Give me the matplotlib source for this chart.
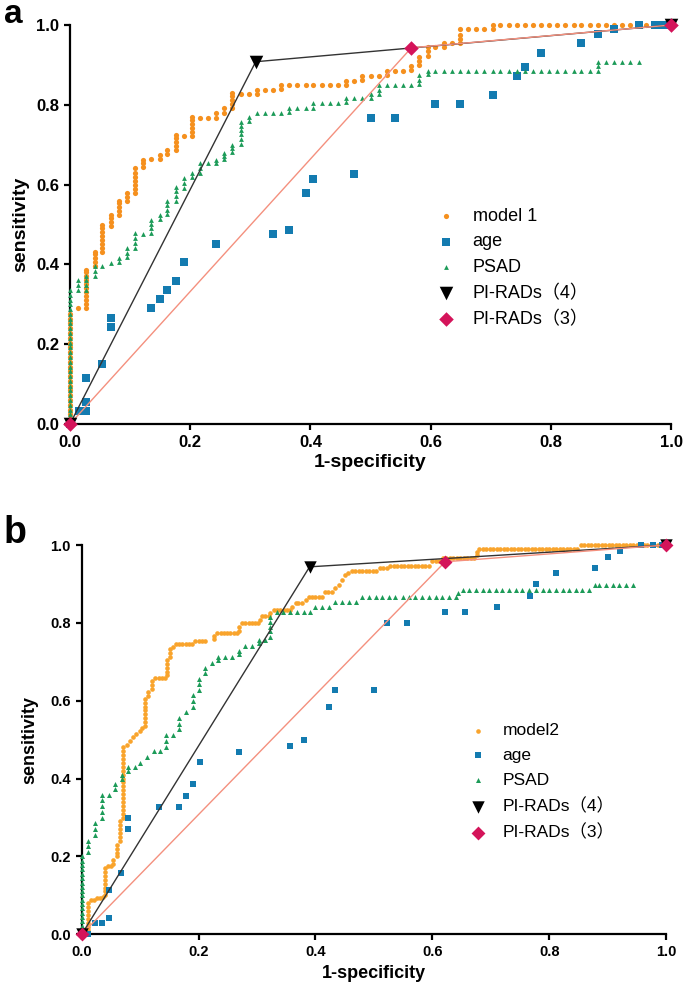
import matplotlib
matplotlib.use('Agg')
import matplotlib.pyplot as plt

plt.rcParams['font.family'] = ['Liberation Sans', 'Noto Sans CJK SC', 'DejaVu Sans']

# ---------------- panel a ----------------
# (1-specificity, [sensitivity values]) columns
model1_a = [
    (0.000, [0.000, 0.012, 0.024, 0.036, 0.048, 0.060, 0.072, 0.084, 0.096, 0.108, 0.120, 0.132,
             0.144, 0.156, 0.168, 0.180, 0.192, 0.204, 0.216, 0.228, 0.240, 0.252, 0.264, 0.276]),
    (0.014, [0.290]),
    (0.027, [0.290, 0.300, 0.310, 0.320, 0.330, 0.340, 0.350, 0.360, 0.370, 0.380, 0.386]),
    (0.041, [0.395, 0.405, 0.415, 0.425, 0.432]),
    (0.054, [0.432, 0.442, 0.452, 0.462, 0.472, 0.482, 0.492, 0.499]),
    (0.068, [0.497, 0.507, 0.517, 0.524]),
    (0.081, [0.524, 0.534, 0.544, 0.554, 0.558]),
    (0.095, [0.560, 0.570, 0.580]),
    (0.108, [0.580, 0.590, 0.600, 0.610, 0.620, 0.630, 0.641]),
    (0.122, [0.643, 0.653, 0.662]),
    (0.135, [0.664]),
    (0.149, [0.664, 0.674]),
    (0.162, [0.676, 0.687]),
    (0.176, [0.687, 0.697, 0.707, 0.717, 0.725]),
    (0.189, [0.722]),
    (0.203, [0.722, 0.732, 0.742, 0.752, 0.762, 0.770]),
    (0.216, [0.768]),
    (0.230, [0.768]),
    (0.243, [0.768, 0.779]),
    (0.257, [0.780, 0.791]),
    (0.270, [0.793, 0.803, 0.813, 0.823, 0.829]),
    (0.284, [0.826]),
    (0.297, [0.826]),
    (0.311, [0.826, 0.837]),
    (0.324, [0.837]),
    (0.338, [0.837]),
    (0.351, [0.840, 0.850]),
    (0.365, [0.850]), (0.378, [0.850]), (0.392, [0.850]), (0.405, [0.850]),
    (0.419, [0.850]), (0.432, [0.850]), (0.446, [0.850]),
    (0.459, [0.850, 0.860]),
    (0.473, [0.860]),
    (0.486, [0.862, 0.872]),
    (0.500, [0.872]), (0.514, [0.872]),
    (0.527, [0.875, 0.885]),
    (0.541, [0.885]), (0.554, [0.885]),
    (0.568, [0.887, 0.897]),
    (0.581, [0.900, 0.910, 0.920]),
    (0.595, [0.922, 0.934, 0.946]),
    (0.608, [0.946]),
    (0.622, [0.946, 0.954]),
    (0.635, [0.954]),
    (0.649, [0.956, 0.966, 0.976, 0.989]),
    (0.662, [0.989]), (0.676, [0.989]), (0.689, [0.989]),
    (0.703, [0.990, 1.000]),
    (0.716, [1.0]), (0.730, [1.0]), (0.743, [1.0]), (0.757, [1.0]), (0.770, [1.0]),
    (0.784, [1.0]), (0.797, [1.0]), (0.811, [1.0]), (0.824, [1.0]), (0.838, [1.0]),
    (0.851, [1.0]), (0.865, [1.0]), (0.878, [1.0]), (0.892, [1.0]), (0.905, [1.0]),
    (0.919, [1.0]), (0.932, [1.0]), (0.946, [1.0]), (0.959, [1.0]), (0.973, [1.0]),
    (0.986, [1.0]), (1.000, [1.0]),
]

psad_a = [
    (0.000, [0.000, 0.012, 0.024, 0.036, 0.048, 0.060, 0.072, 0.084, 0.096, 0.108, 0.120, 0.132,
             0.144, 0.156, 0.168, 0.180, 0.192, 0.204, 0.216, 0.228, 0.240, 0.252, 0.264, 0.276,
             0.288, 0.300, 0.312, 0.324, 0.336]),
    (0.014, [0.336, 0.348, 0.361]),
    (0.027, [0.336, 0.348, 0.360, 0.370]),
    (0.041, [0.372, 0.384, 0.395]),
    (0.054, [0.395]),
    (0.068, [0.403]),
    (0.081, [0.405, 0.416]),
    (0.095, [0.418, 0.429, 0.440]),
    (0.108, [0.442, 0.454, 0.466, 0.478]),
    (0.122, [0.476]),
    (0.135, [0.478, 0.490, 0.501, 0.512]),
    (0.149, [0.514, 0.524]),
    (0.162, [0.526, 0.537, 0.548, 0.558]),
    (0.176, [0.560, 0.572, 0.584, 0.595]),
    (0.189, [0.592, 0.604, 0.616]),
    (0.203, [0.618, 0.628]),
    (0.216, [0.630, 0.642, 0.654]),
    (0.230, [0.654]),
    (0.243, [0.654, 0.662]),
    (0.257, [0.664, 0.672, 0.680]),
    (0.270, [0.682, 0.691, 0.700]),
    (0.284, [0.702, 0.714, 0.726, 0.738, 0.748, 0.758]),
    (0.297, [0.760, 0.770]),
    (0.311, [0.779]), (0.324, [0.779]), (0.338, [0.779]), (0.351, [0.779]),
    (0.365, [0.781, 0.791]),
    (0.378, [0.791]), (0.392, [0.791]),
    (0.405, [0.793, 0.804]),
    (0.419, [0.804]), (0.432, [0.804]), (0.446, [0.804]),
    (0.459, [0.806, 0.816]),
    (0.473, [0.816]), (0.486, [0.816]),
    (0.500, [0.818, 0.826]),
    (0.514, [0.828, 0.838, 0.850]),
    (0.527, [0.850]), (0.541, [0.850]), (0.554, [0.850]), (0.568, [0.850]),
    (0.581, [0.852, 0.863, 0.875]),
    (0.595, [0.877, 0.885]),
    (0.608, [0.885]), (0.622, [0.885]), (0.635, [0.885]), (0.649, [0.885]), (0.662, [0.885]),
    (0.676, [0.885]), (0.689, [0.885]), (0.703, [0.885]), (0.716, [0.885]), (0.730, [0.885]),
    (0.743, [0.885]), (0.757, [0.885]), (0.770, [0.885]), (0.784, [0.885]), (0.797, [0.885]),
    (0.811, [0.885]), (0.824, [0.885]), (0.838, [0.885]), (0.851, [0.885]), (0.865, [0.885]),
    (0.878, [0.885, 0.897, 0.908]),
    (0.892, [0.908]), (0.905, [0.908]), (0.919, [0.908]), (0.932, [0.908]), (0.946, [0.908]),
]

age_a_x = [0.000, 0.015, 0.027, 0.027, 0.027, 0.054, 0.068, 0.068, 0.135, 0.149, 0.162, 0.176,
           0.189, 0.243, 0.338, 0.365, 0.392, 0.405, 0.473, 0.500, 0.541, 0.608, 0.649, 0.703,
           0.743, 0.757, 0.784, 0.851, 0.878, 0.905, 0.946, 0.973, 0.986, 1.000]
age_a_y = [0.000, 0.033, 0.033, 0.056, 0.115, 0.150, 0.243, 0.265, 0.290, 0.313, 0.336, 0.359,
           0.406, 0.452, 0.476, 0.487, 0.580, 0.614, 0.627, 0.766, 0.766, 0.802, 0.802, 0.825,
           0.872, 0.894, 0.931, 0.954, 0.977, 0.989, 1.000, 1.000, 1.000, 1.000]

pirads4_a_x = [0.0, 0.309, 1.0]
pirads4_a_y = [0.0, 0.908, 1.0]
pirads3_a_x = [0.0, 0.568, 1.0]
pirads3_a_y = [0.0, 0.943, 1.0]

# ---------------- panel b ----------------
model2_cols = [
    (0.011, [0.000, 0.010, 0.020, 0.030, 0.040, 0.050, 0.060, 0.070, 0.080]),
    (0.040, [0.100, 0.110, 0.120, 0.130, 0.140, 0.150, 0.160, 0.170]),
    (0.054, [0.180, 0.190]),
    (0.060, [0.200, 0.210, 0.220, 0.230]),
    (0.066, [0.240, 0.250, 0.260, 0.270, 0.280, 0.290]),
    (0.071, [0.300, 0.310, 0.320, 0.330, 0.340, 0.350, 0.360, 0.370, 0.380, 0.390,
             0.400, 0.410, 0.420, 0.430, 0.440, 0.450, 0.460, 0.470, 0.480]),
    (0.109, [0.535, 0.545, 0.555, 0.565, 0.575, 0.585, 0.595, 0.605]),
    (0.114, [0.612, 0.622]),
    (0.120, [0.630, 0.640, 0.650]),
    (0.146, [0.665, 0.675, 0.685, 0.695, 0.705]),
    (0.151, [0.713, 0.723, 0.732]),
    (0.227, [0.758, 0.766]),
    (0.269, [0.780, 0.790]),
    (0.305, [0.808]),
    (0.323, [0.826]),
    (0.360, [0.842]),
    (0.676, [0.975, 0.983]),
]
# (sensitivity, [1-specificity values]) rows
model2_rows = [
    (0.088, [0.016, 0.021]),
    (0.093, [0.026, 0.031]),
    (0.097, [0.036]),
    (0.175, [0.045, 0.050]),
    (0.486, [0.077]), (0.497, [0.083]), (0.506, [0.088]), (0.515, [0.093]),
    (0.522, [0.099]), (0.529, [0.104]),
    (0.658, [0.126, 0.132, 0.137, 0.143]),
    (0.738, [0.156]),
    (0.745, [0.161, 0.167, 0.172, 0.178, 0.183, 0.189]),
    (0.754, [0.194, 0.200, 0.205, 0.211]),
    (0.773, [0.232, 0.238, 0.243, 0.249, 0.254, 0.260, 0.265]),
    (0.799, [0.274, 0.280, 0.286, 0.291, 0.297, 0.302]),
    (0.818, [0.309, 0.314, 0.320]),
    (0.833, [0.329, 0.334, 0.340, 0.346, 0.352, 0.357]),
    (0.850, [0.366, 0.371, 0.377]),
    (0.859, [0.383]),
    (0.867, [0.389, 0.394, 0.400, 0.406, 0.411]),
    (0.880, [0.416, 0.422, 0.428]),
    (0.889, [0.434]), (0.897, [0.440]), (0.910, [0.446]), (0.923, [0.451]), (0.928, [0.456]),
    (0.933, [0.462, 0.468, 0.474, 0.480, 0.486, 0.492, 0.498, 0.504]),
    (0.940, [0.510, 0.516, 0.522]),
    (0.947, [0.528, 0.534, 0.540, 0.546, 0.552, 0.558, 0.564, 0.570, 0.576, 0.582, 0.588, 0.594]),
    (0.959, [0.600, 0.606, 0.612]),
    (0.966, [0.618, 0.624, 0.630, 0.636, 0.642, 0.648, 0.654, 0.660, 0.666, 0.672]),
    (0.990, [0.680, 0.686, 0.692, 0.698, 0.704, 0.710, 0.716, 0.722, 0.728, 0.734, 0.740,
             0.746, 0.752, 0.758, 0.764, 0.770, 0.776, 0.782, 0.788, 0.794, 0.800, 0.806,
             0.812, 0.818, 0.824, 0.830, 0.836, 0.842, 0.848]),
    (1.000, [0.854, 0.860, 0.866, 0.872, 0.878, 0.884, 0.890, 0.896, 0.902, 0.908, 0.914,
             0.920, 0.926, 0.932, 0.938, 0.944, 0.950, 0.956, 0.962, 0.968, 0.974, 0.980,
             0.986, 0.992, 0.998]),
]

psad_b_cols = [
    (0.000, [0.000, 0.011, 0.022, 0.033, 0.044, 0.056, 0.067, 0.078, 0.089, 0.100, 0.111,
             0.122, 0.133, 0.144, 0.156, 0.167, 0.178, 0.189, 0.200]),
    (0.011, [0.212, 0.226, 0.240]),
    (0.023, [0.255, 0.270, 0.285]),
    (0.034, [0.300, 0.315, 0.330, 0.345, 0.358]),
    (0.046, [0.358]),
    (0.057, [0.372, 0.385]),
    (0.069, [0.398, 0.410]),
    (0.080, [0.420, 0.430]),
    (0.091, [0.430]),
    (0.100, [0.440]),
    (0.111, [0.455]),
    (0.123, [0.470]),
    (0.134, [0.470]),
    (0.145, [0.482, 0.497, 0.512]),
    (0.157, [0.512]),
    (0.167, [0.527, 0.541, 0.555]),
    (0.179, [0.570]),
    (0.190, [0.585, 0.600, 0.615]),
    (0.200, [0.628, 0.643, 0.657]),
    (0.211, [0.670, 0.683]),
    (0.223, [0.696]),
    (0.234, [0.705, 0.713]),
    (0.246, [0.713]),
    (0.257, [0.713]),
    (0.269, [0.720, 0.727]),
    (0.280, [0.741]),
    (0.291, [0.741]),
    (0.303, [0.748, 0.755]),
    (0.314, [0.755]),
    (0.323, [0.765, 0.778, 0.790, 0.803, 0.816]),
    (0.400, [0.842]),
    (0.434, [0.854]),
    (0.644, [0.876]),
    (0.878, [0.897]),
]
psad_b_rows = [
    (0.829, [0.334, 0.345, 0.357, 0.368, 0.380, 0.391]),
    (0.842, [0.411, 0.423]),
    (0.854, [0.446, 0.457, 0.469]),
    (0.867, [0.480, 0.491, 0.503, 0.514, 0.526, 0.537, 0.549, 0.560, 0.571, 0.583, 0.594,
             0.606, 0.617, 0.629, 0.640]),
    (0.884, [0.652, 0.663, 0.675, 0.686, 0.697, 0.709, 0.720, 0.732, 0.743, 0.754, 0.766,
             0.777, 0.789, 0.800, 0.811, 0.823, 0.834, 0.846, 0.857, 0.869]),
    (0.897, [0.886, 0.897, 0.909, 0.920, 0.931, 0.943]),
]

age_b_x = [0.000, 0.011, 0.023, 0.034, 0.046, 0.046, 0.067, 0.079, 0.079, 0.133, 0.167, 0.179,
           0.190, 0.202, 0.269, 0.357, 0.380, 0.423, 0.434, 0.501, 0.522, 0.557, 0.622, 0.656,
           0.711, 0.768, 0.778, 0.811, 0.879, 0.900, 0.922, 0.957, 0.978, 0.993]
age_b_y = [0.000, 0.000, 0.028, 0.028, 0.043, 0.114, 0.157, 0.270, 0.298, 0.328, 0.328, 0.355,
           0.385, 0.442, 0.469, 0.485, 0.500, 0.585, 0.628, 0.628, 0.799, 0.799, 0.827, 0.827,
           0.842, 0.869, 0.899, 0.929, 0.942, 0.970, 0.985, 1.000, 1.000, 1.000]

pirads4_b_x = [0.0, 0.390, 1.0]
pirads4_b_y = [0.0, 0.944, 1.0]
pirads3_b_x = [0.0, 0.622, 1.0]
pirads3_b_y = [0.0, 0.957, 1.0]


def from_cols(cols):
    xs, ys = [], []
    for x, col in cols:
        for y in col:
            xs.append(x)
            ys.append(y)
    return xs, ys


def from_rows(rows):
    xs, ys = [], []
    for y, row in rows:
        for x in row:
            xs.append(x)
            ys.append(y)
    return xs, ys


ORANGE_A = '#F5901E'
ORANGE_B = '#F9A42C'
BLUE = '#137BB0'
GREEN = '#1C9B58'
RED = '#D4145A'
SALMON = '#F4907E'
DARK = '#333333'


def style_axes(ax, tick_size, label_size, xpad, ypad):
    ax.set_xlim(0, 1)
    ax.set_ylim(0, 1)
    ax.set_xticks([0.0, 0.2, 0.4, 0.6, 0.8, 1.0])
    ax.set_yticks([0.0, 0.2, 0.4, 0.6, 0.8, 1.0])
    ax.xaxis.set_major_formatter(matplotlib.ticker.FormatStrFormatter('%.1f'))
    ax.yaxis.set_major_formatter(matplotlib.ticker.FormatStrFormatter('%.1f'))
    for s in ['top', 'right']:
        ax.spines[s].set_visible(False)
    for s in ['left', 'bottom']:
        ax.spines[s].set_linewidth(1.6)
    ax.tick_params(direction='out', length=4, width=1.6, labelsize=tick_size, pad=4)
    for lab in ax.get_xticklabels() + ax.get_yticklabels():
        lab.set_fontweight('bold')
    ax.set_xlabel('1-specificity', fontsize=label_size, fontweight='bold', labelpad=xpad)
    ax.set_ylabel('sensitivity', fontsize=label_size, fontweight='bold', labelpad=ypad)


fig = plt.figure(figsize=(6.85, 9.89), dpi=100)

# panel a
ax1 = fig.add_axes([0.1022, 0.5713, 0.8774, 0.4034])
mx, my = from_cols(model1_a)
h1 = ax1.scatter(mx, my, s=14, marker='o', color=ORANGE_A, linewidths=0, clip_on=False, zorder=3, label='model 1')
h2 = ax1.scatter(age_a_x, age_a_y, s=30, marker='s', color=BLUE, linewidths=0, clip_on=False, zorder=4, label='age')
px, py = from_cols(psad_a)
h3 = ax1.scatter(px, py, s=12, marker='^', color=GREEN, linewidths=0, clip_on=False, zorder=5, label='PSAD')
ax1.plot(pirads4_a_x, pirads4_a_y, color=DARK, lw=1.0, zorder=6, clip_on=False)
ax1.plot(pirads3_a_x, pirads3_a_y, color=SALMON, lw=1.0, zorder=6, clip_on=False)
h4 = ax1.scatter(pirads4_a_x, pirads4_a_y, s=95, marker='v', color='black', linewidths=0, clip_on=False, zorder=7, label='PI-RADs（4）')
h5 = ax1.scatter(pirads3_a_x, pirads3_a_y, s=55, marker='D', color=RED, linewidths=0, clip_on=False, zorder=8, label='PI-RADs（3）')
style_axes(ax1, 12, 14, 3, 5)
ax1.legend(handles=[h1, h2, h3, h4, h5], loc='upper left', bbox_to_anchor=(0.61, 0.542),
           frameon=False, fontsize=13, handlelength=1.0, handletextpad=1.0,
           labelspacing=0.48, borderpad=0, borderaxespad=0)
fig.text(0.006, 0.9765, 'a', fontsize=24, fontweight='bold', va='baseline')

# panel b
ax2 = fig.add_axes([0.1193, 0.0553, 0.853, 0.3936])
m2x, m2y = from_cols(model2_cols)
m2rx, m2ry = from_rows(model2_rows)
h1 = ax2.scatter(m2x + m2rx, m2y + m2ry, s=11, marker='o', color=ORANGE_B, linewidths=0, clip_on=False, zorder=3, label='model2')
h2 = ax2.scatter(age_b_x, age_b_y, s=15, marker='s', color=BLUE, linewidths=0, clip_on=False, zorder=4, label='age')
pbx, pby = from_cols(psad_b_cols)
pbrx, pbry = from_rows(psad_b_rows)
h3 = ax2.scatter(pbx + pbrx, pby + pbry, s=13, marker='^', color=GREEN, linewidths=0, clip_on=False, zorder=5, label='PSAD')
ax2.plot(pirads4_b_x, pirads4_b_y, color=DARK, lw=1.0, zorder=6, clip_on=False)
ax2.plot(pirads3_b_x, pirads3_b_y, color=SALMON, lw=1.0, zorder=6, clip_on=False)
h4 = ax2.scatter(pirads4_b_x, pirads4_b_y, s=80, marker='v', color='black', linewidths=0, clip_on=False, zorder=7, label='PI-RADs（4）')
h5 = ax2.scatter(pirads3_b_x, pirads3_b_y, s=50, marker='D', color=RED, linewidths=0, clip_on=False, zorder=8, label='PI-RADs（3）')
style_axes(ax2, 10.5, 13, 4, 8)
ax2.legend(handles=[h1, h2, h3, h4, h5], loc='upper left', bbox_to_anchor=(0.664, 0.543),
           frameon=False, fontsize=12.5, handlelength=1.0, handletextpad=0.9,
           labelspacing=0.56, borderpad=0, borderaxespad=0)
fig.text(0.005, 0.451, 'b', fontsize=27, fontweight='bold', va='baseline')

fig.savefig('out.png', dpi=100)
